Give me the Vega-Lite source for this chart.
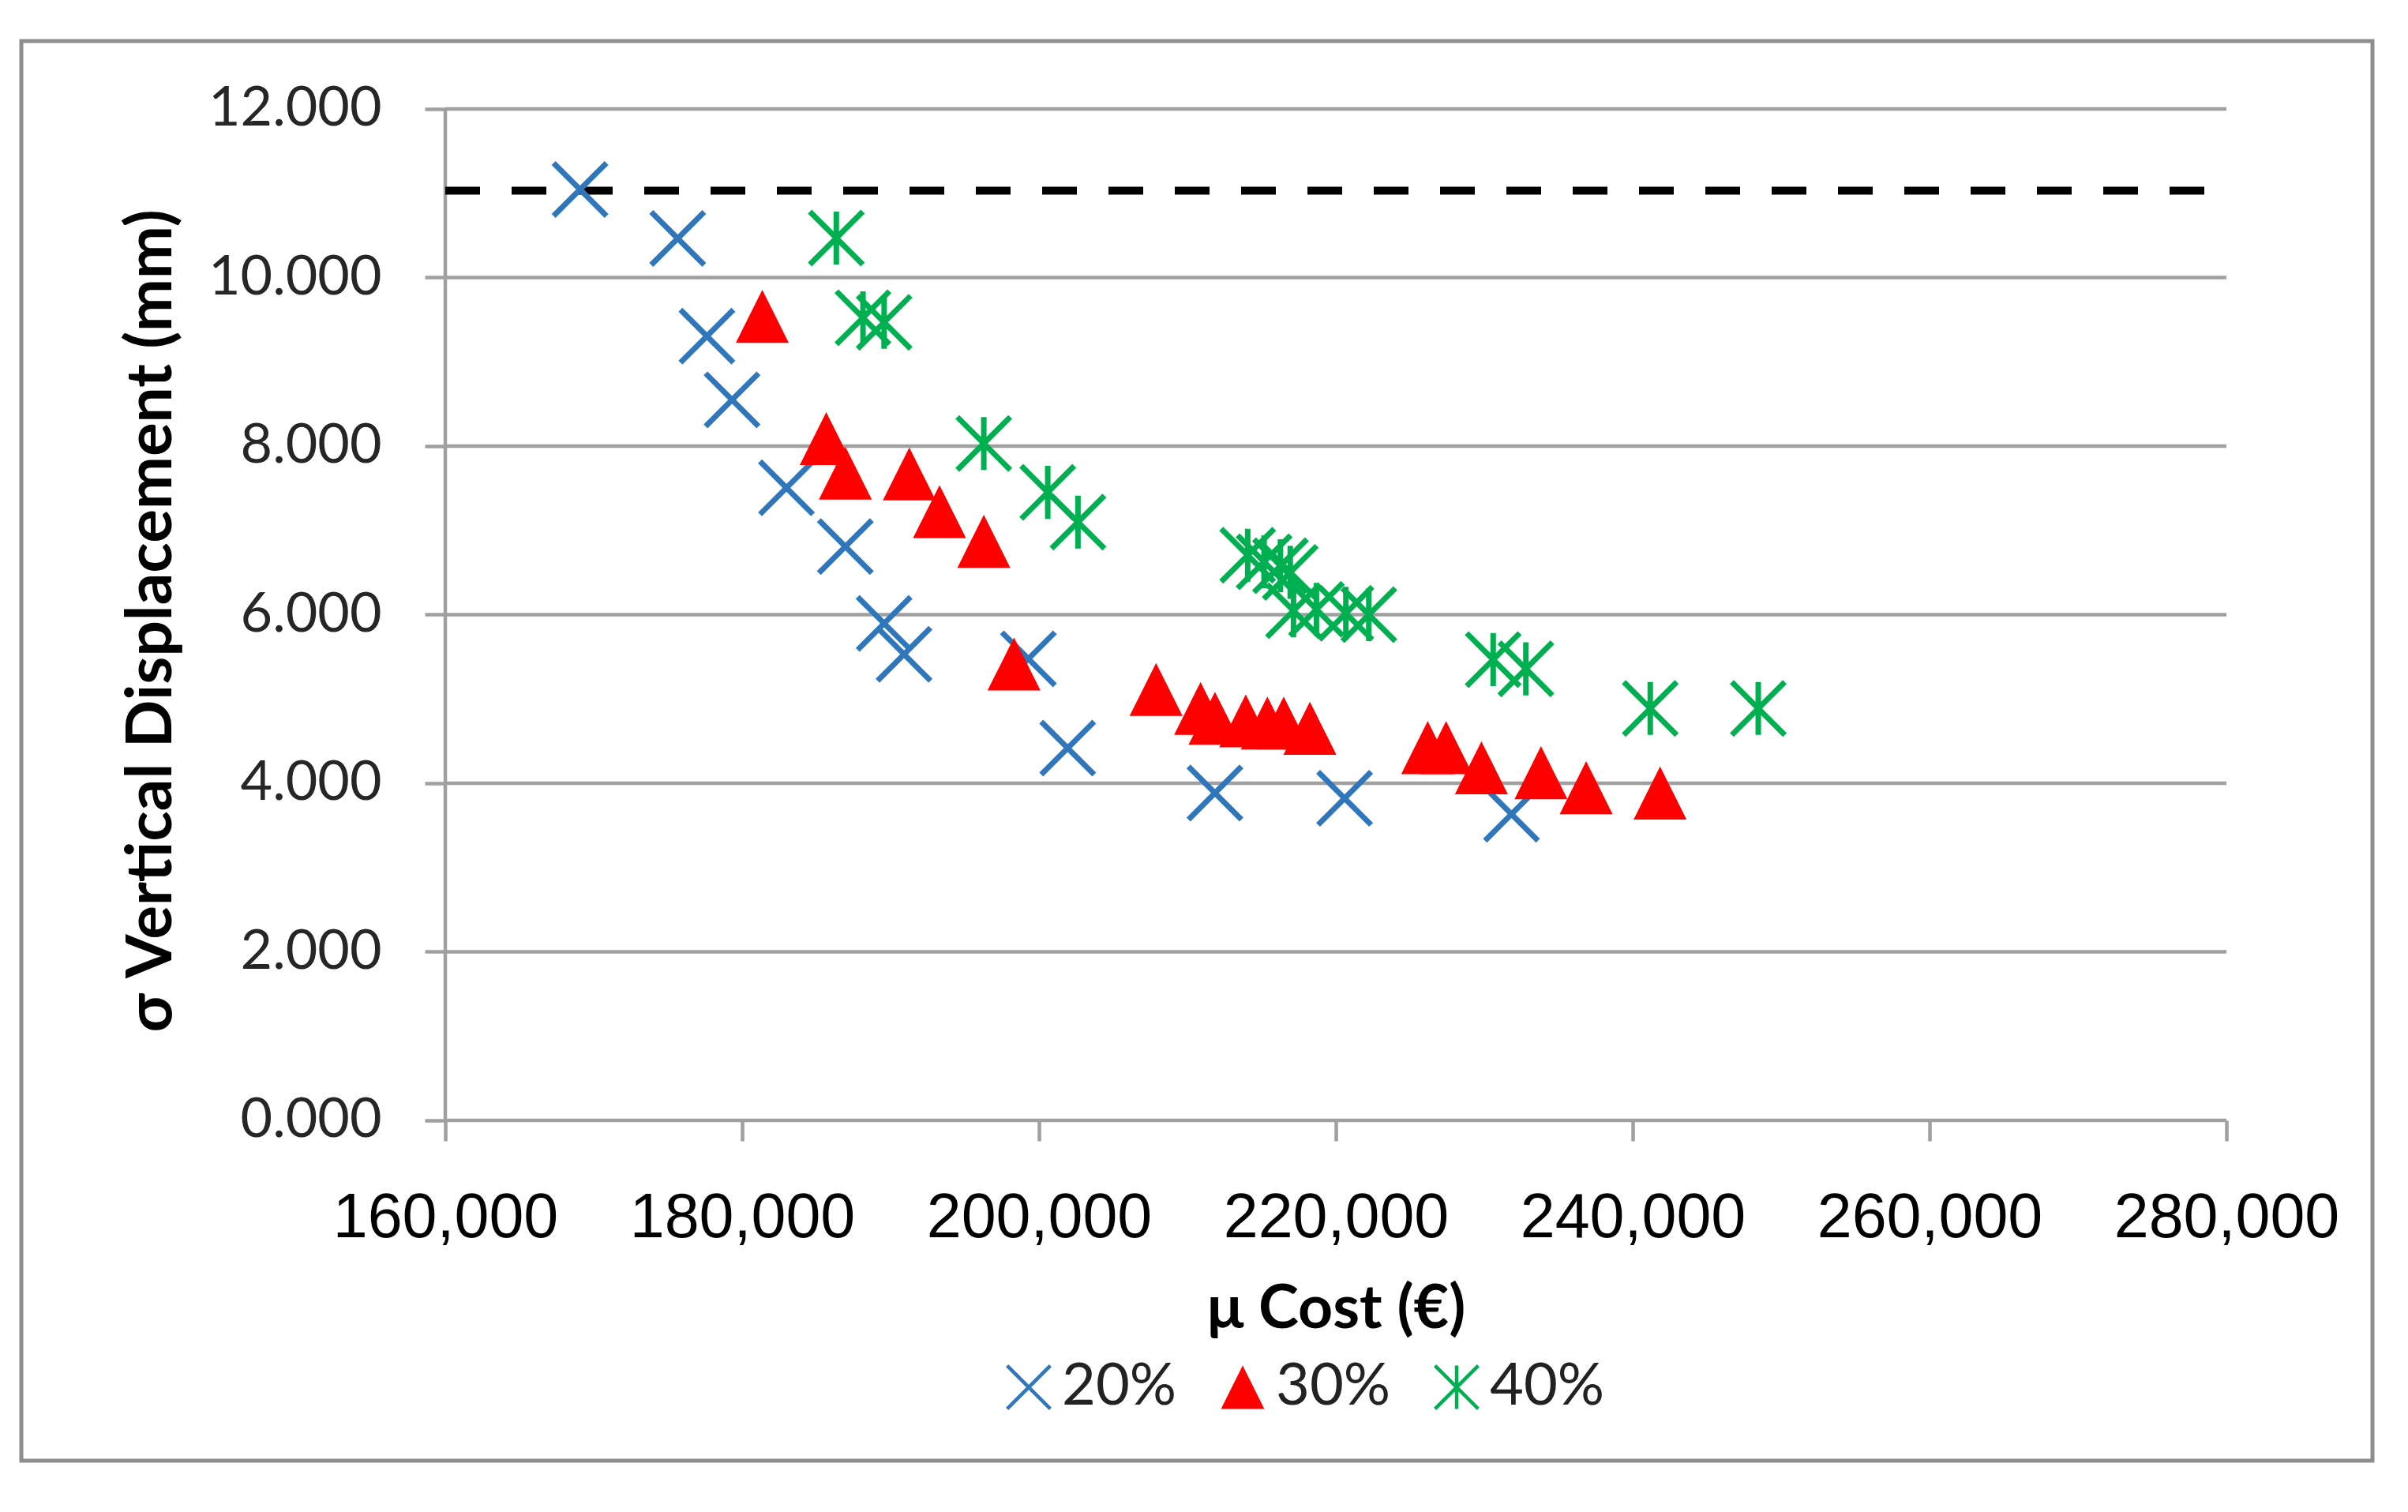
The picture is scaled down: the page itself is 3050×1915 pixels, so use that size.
{
  "$schema": "https://vega.github.io/schema/vega-lite/v6.json",
  "autosize": {"type": "none"},
  "padding": {"left": 27, "top": 52, "right": 45, "bottom": 65},
  "width": 2978,
  "height": 1798,
  "background": "white",
  "config": {
    "view": {"stroke": "#8E8E8E", "strokeWidth": 5},
    "legend": {
      "orient": "none", "legendX": 1239, "legendY": 1668,
      "direction": "horizontal",
      "labelFont": "Lato", "labelFontSize": 74, "labelColor": "#222222", "labelLimit": 400,
      "symbolSize": 3000, "symbolStrokeWidth": 4.5,
      "columnPadding": 46, "labelOffset": 5, "padding": 0
    }
  },
  "datasets": {
    "grid": [{"g": 0}, {"g": 2}, {"g": 4}, {"g": 6}, {"g": 8}, {"g": 10}, {"g": 12}],
    "yaxisline": [{"x": 160000, "y0": 0, "y1": 12}],
    "limit": [{"lim": 11.03, "start": 160000, "end": 279000}],
    "points": [
      {"series": "20%", "cost": 169079, "sd": 11.045},
      {"series": "20%", "cost": 175659, "sd": 10.464},
      {"series": "20%", "cost": 177626, "sd": 9.304},
      {"series": "20%", "cost": 179322, "sd": 8.549},
      {"series": "20%", "cost": 182986, "sd": 7.505},
      {"series": "20%", "cost": 186954, "sd": 6.808},
      {"series": "20%", "cost": 189566, "sd": 5.896},
      {"series": "20%", "cost": 190908, "sd": 5.530},
      {"series": "20%", "cost": 199288, "sd": 5.476},
      {"series": "20%", "cost": 201934, "sd": 4.417},
      {"series": "20%", "cost": 211856, "sd": 3.884},
      {"series": "20%", "cost": 220588, "sd": 3.821},
      {"series": "20%", "cost": 231833, "sd": 3.633},
      {"series": "30%", "cost": 181358, "sd": 9.540},
      {"series": "30%", "cost": 185665, "sd": 8.089},
      {"series": "30%", "cost": 186954, "sd": 7.679},
      {"series": "30%", "cost": 191262, "sd": 7.670},
      {"series": "30%", "cost": 193297, "sd": 7.223},
      {"series": "30%", "cost": 196282, "sd": 6.870},
      {"series": "30%", "cost": 198317, "sd": 5.414},
      {"series": "30%", "cost": 207887, "sd": 5.113},
      {"series": "30%", "cost": 210886, "sd": 4.887},
      {"series": "30%", "cost": 211856, "sd": 4.771},
      {"series": "30%", "cost": 213928, "sd": 4.740},
      {"series": "30%", "cost": 215384, "sd": 4.715},
      {"series": "30%", "cost": 216487, "sd": 4.715},
      {"series": "30%", "cost": 218251, "sd": 4.652},
      {"series": "30%", "cost": 226189, "sd": 4.423},
      {"series": "30%", "cost": 227426, "sd": 4.423},
      {"series": "30%", "cost": 229807, "sd": 4.182},
      {"series": "30%", "cost": 233820, "sd": 4.125},
      {"series": "30%", "cost": 236863, "sd": 3.947},
      {"series": "30%", "cost": 241844, "sd": 3.884},
      {"series": "40%", "cost": 186344, "sd": 10.468},
      {"series": "40%", "cost": 188142, "sd": 9.523},
      {"series": "40%", "cost": 189566, "sd": 9.469},
      {"series": "40%", "cost": 196282, "sd": 8.031},
      {"series": "40%", "cost": 200590, "sd": 7.451},
      {"series": "40%", "cost": 202625, "sd": 7.098},
      {"series": "40%", "cost": 214061, "sd": 6.705},
      {"series": "40%", "cost": 215164, "sd": 6.627},
      {"series": "40%", "cost": 216266, "sd": 6.580},
      {"series": "40%", "cost": 216928, "sd": 6.502},
      {"series": "40%", "cost": 217148, "sd": 6.047},
      {"series": "40%", "cost": 218692, "sd": 6.063},
      {"series": "40%", "cost": 220676, "sd": 6.016},
      {"series": "40%", "cost": 222220, "sd": 6.000},
      {"series": "40%", "cost": 230599, "sd": 5.467},
      {"series": "40%", "cost": 232804, "sd": 5.357},
      {"series": "40%", "cost": 241183, "sd": 4.887},
      {"series": "40%", "cost": 248459, "sd": 4.887}
    ]
  },
  "layer": [
    {
      "data": {"name": "grid"},
      "mark": {"type": "rule", "color": "#A0A0A0", "strokeWidth": 4.5},
      "encoding": {
        "y": {"field": "g", "type": "quantitative", "title": "σ Vertical Displacement  (mm)", "scale": {"domain": [-4.0375, 12.8056], "nice": false, "zero": false}},
        "x": {"datum": 160000, "type": "quantitative", "title": "μ Cost (€)", "scale": {"domain": [131436, 289840], "nice": false, "zero": false}},
        "x2": {"datum": 280000}
      }
    },
    {
      "data": {"name": "yaxisline"},
      "mark": {"type": "rule", "color": "#A0A0A0", "strokeWidth": 4.5},
      "encoding": {
        "x": {"field": "x", "type": "quantitative", "title": "μ Cost (€)", "scale": {"domain": [131436, 289840], "nice": false, "zero": false}},
        "y": {"field": "y0", "type": "quantitative", "title": "σ Vertical Displacement  (mm)", "scale": {"domain": [-4.0375, 12.8056], "nice": false, "zero": false}},
        "y2": {"field": "y1"}
      }
    },
    {
      "data": {"name": "limit"},
      "mark": {"type": "rule", "color": "#000000", "strokeWidth": 10, "strokeDash": [44, 40]},
      "encoding": {
        "y": {"field": "lim", "type": "quantitative", "title": "σ Vertical Displacement  (mm)", "scale": {"domain": [-4.0375, 12.8056], "nice": false, "zero": false}},
        "x": {"field": "start", "type": "quantitative", "title": "μ Cost (€)", "scale": {"domain": [131436, 289840], "nice": false, "zero": false}},
        "x2": {"field": "end"}
      }
    },
    {
      "data": {"name": "points"},
      "mark": {"type": "point", "size": 4500, "strokeWidth": 7, "opacity": 1},
      "encoding": {
        "x": {
          "field": "cost", "type": "quantitative", "title": "μ Cost (€)",
          "scale": {"domain": [131436, 289840], "nice": false, "zero": false},
          "axis": {
            "values": [160000, 180000, 200000, 220000, 240000, 260000, 280000],
            "format": ",d",
            "offset": -431,
            "grid": false, "domain": false,
            "ticks": true, "tickSize": 26, "tickWidth": 4.5, "tickColor": "#A0A0A0",
            "labelFont": "Liberation Sans", "labelFontSize": 79, "labelColor": "#000000",
            "labelPadding": 59, "labelFlush": false, "labelOverlap": false, "labelLimit": 600,
            "titleFont": "Lato", "titleFontWeight": "bold", "titleFontSize": 77, "titleColor": "#000000",
            "titlePadding": 38, "titleX": 1665, "titleAlign": "center"
          }
        },
        "y": {
          "field": "sd", "type": "quantitative", "title": "σ Vertical Displacement  (mm)",
          "scale": {"domain": [-4.0375, 12.8056], "nice": false, "zero": false},
          "axis": {
            "values": [0, 2, 4, 6, 8, 10, 12],
            "format": ".3f",
            "offset": -537,
            "grid": false, "domain": false,
            "ticks": true, "tickSize": 26, "tickWidth": 4.5, "tickColor": "#A0A0A0",
            "labelFont": "Lato", "labelFontSize": 70, "labelColor": "#262626",
            "labelPadding": 55, "labelOverlap": false, "labelLimit": 600,
            "titleFont": "Lato", "titleFontWeight": "bold", "titleFontSize": 80, "titleColor": "#000000",
            "titleX": -372, "titleY": 734, "titleBaseline": "middle", "titleAngle": 270, "titleAlign": "center",
            "titleLimit": 2000
          }
        },
        "shape": {
          "field": "series", "type": "nominal", "title": null,
          "scale": {"domain": ["20%", "30%", "40%"], "range": ["M-1,-1L1,1M-1,1L1,-1", "M0,-1L1,1L-1,1Z", "M-1,-1L1,1M-1,1L1,-1M0,-1L0,1"]}
        },
        "stroke": {
          "field": "series", "type": "nominal", "title": null,
          "scale": {"domain": ["20%", "30%", "40%"], "range": ["#2F77BA", "transparent", "#00B050"]}
        },
        "fill": {
          "field": "series", "type": "nominal", "title": null,
          "scale": {"domain": ["20%", "30%", "40%"], "range": ["transparent", "#FF0000", "transparent"]}
        }
      }
    }
  ]
}
